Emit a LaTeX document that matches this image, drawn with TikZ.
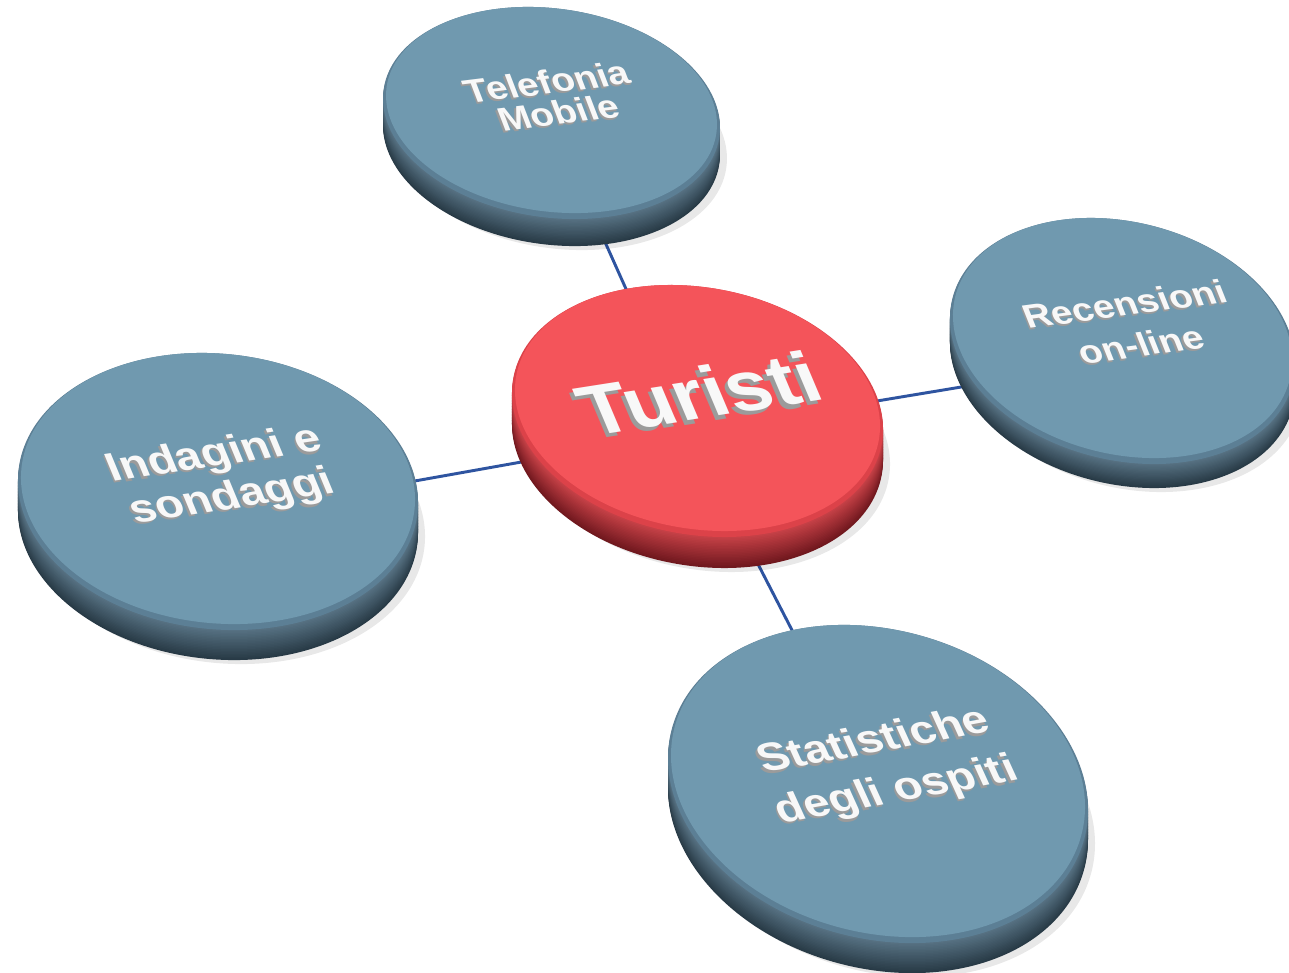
\documentclass[tikz,border=0pt]{standalone}
\usepackage{fontspec}
\setmainfont{Liberation Sans}
\definecolor{faceB}{RGB}{112,153,175}
\definecolor{rimB}{RGB}{92,127,149}
\definecolor{sideBtop}{RGB}{88,115,132}
\definecolor{sideBbot}{RGB}{40,58,70}
\definecolor{faceR}{RGB}{244,84,90}
\definecolor{rimR}{RGB}{220,66,73}
\definecolor{sideRtop}{RGB}{200,66,72}
\definecolor{sideRbot}{RGB}{112,24,30}
\definecolor{linkc}{RGB}{46,84,160}
\definecolor{extr}{RGB}{155,155,155}
\definecolor{txt}{RGB}{248,248,248}

% disc: #1 colour key (B/R), #2 cx, #3 cy, #4 a, #5 b, #6 tilt (clockwise), #7 thickness
\newcommand\disc[7]{%
  \fill[black,opacity=0.09] ({#2+7},{#3+#7+4}) ellipse [x radius=#4, y radius=#5, rotate=-#6];
  \foreach \i in {20,19,...,1}{%
    \pgfmathtruncatemacro\pct{\i*5}%
    \fill[side#1bot!\pct!side#1top] (#2,{#3+\i*#7/20}) ellipse [x radius=#4, y radius=#5, rotate=-#6];
  }
  \fill[rim#1] (#2,#3) ellipse [x radius=#4, y radius=#5, rotate=-#6];
  \fill[face#1] (#2,{#3-3}) ellipse [x radius={#4-3}, y radius={#5-3}, rotate=-#6];
}

% white letters with a grey extruded edge
\newcommand\emb[1]{\leavevmode\rlap{\color{extr}\hspace*{-0.055em}\raisebox{-0.055em}{#1}}#1}

\tikzset{
  lbl/.style={text=txt, font=\bfseries, align=center, inner sep=0pt},
  link/.style={draw=linkc, line width=2.2pt},
}

\begin{document}
\begin{tikzpicture}[x=0.75pt,y=-0.75pt]
\useasboundingbox (0,0) rectangle (1289,972);
\clip (0,0) rectangle (1289,972);
\fill[white] (0,0) rectangle (1289,972);

% hub points of the discs
\coordinate (htur) at (690,432);
\coordinate (htel) at (554,128);
\coordinate (hrec) at (1130,359);
\coordinate (hind) at (218,516);
\coordinate (hsta) at (882,805);

% connectors
\draw[link] (htur) -- (htel);
\draw[link] (htur) -- (hrec);
\draw[link] (htur) -- (hind);
\draw[link] (htur) -- (hsta);

% discs
\disc{B}{551.5}{113}{169.5}{104.4}{8}{27}
\disc{B}{1122.5}{341}{175.3}{119}{14}{24}
\disc{B}{218}{491.5}{200.6}{137.7}{6}{30}
\disc{B}{878}{784}{213.4}{154.4}{15}{30}
\disc{R}{697.5}{411}{187.1}{123.6}{10}{31}

% labels
\node[lbl, font=\bfseries\fontsize{28.5}{27}\selectfont, rotate=7, xslant=-0.25, yscale=0.88] (tel) at (553,98) {\emb{Telefonia}\\\emb{Mobile}};
\node[lbl, font=\bfseries\fontsize{28.5}{36}\selectfont, rotate=7.7, xslant=-0.25, yscale=0.88] (rec) at (1133,325) {\emb{Recensioni}\\\emb{on-line}};
\node[lbl, font=\bfseries\fontsize{34.5}{38}\selectfont, rotate=8.5, xslant=-0.25, yscale=0.88] (ind) at (224,478) {\emb{Indagini e}\\\emb{sondaggi}};
\node[lbl, font=\bfseries\fontsize{34.5}{45}\selectfont, rotate=10.4, xslant=-0.25, yscale=0.88] (sta) at (886,768) {\emb{Statistiche}\\\emb{degli ospiti}};
\node[lbl, font=\bfseries\fontsize{60}{60}\selectfont, rotate=8.9, xslant=-0.25, yscale=0.9] (tur) at (700,395) {\emb{Turisti}};
\end{tikzpicture}
\end{document}
